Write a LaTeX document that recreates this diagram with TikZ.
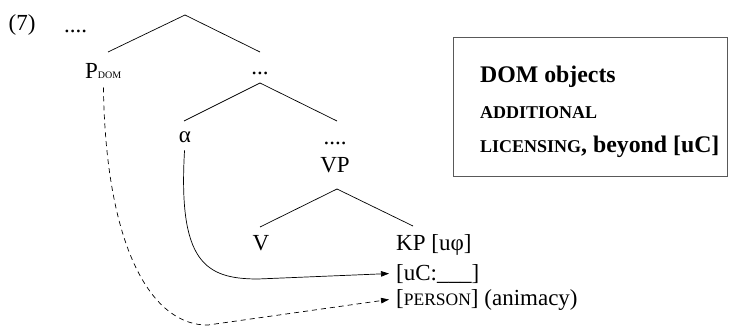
\documentclass[tikz,border=0pt]{standalone}
\usepackage{fontspec}
\setmainfont{Liberation Serif}
\usetikzlibrary{arrows.meta}
% faked small capitals: upper case at a reduced size
\newcommand\smcaps[1]{{\fontsize{17.5}{17.5}\selectfont\MakeUppercase{#1}}}
\newcommand\bigsmcaps[1]{{\fontsize{18}{18}\selectfont\MakeUppercase{#1}}}
\newcommand\tinycaps[1]{{\fontsize{10}{10}\selectfont\MakeUppercase{#1}}}
\begin{document}
\begin{tikzpicture}[x=1pt,y=-1pt,
  every node/.style={inner sep=0pt,font=\fontsize{23}{27}\selectfont},
  boxtext/.style={anchor=base west,font=\fontsize{23.8}{28}\selectfont\bfseries},
  branch/.style={line width=0.7pt},
  link/.style={line width=0.7pt,-{Triangle[length=8pt,width=5.5pt]}},
  dashlink/.style={link,dash pattern=on 5pt off 4pt}]
\useasboundingbox (0,0) rectangle (735,326);

% example number and labels
\node[anchor=base] (num) at (22,31) {(7)};
\node[anchor=base west] (dotsA) at (64,33) {....};
\node[anchor=base west] (pdom) at (85,79) {P\tinycaps{dom}};
\node[anchor=base] (dotsB) at (260,75) {...};
\node[anchor=base] (alpha) at (185,142) {α};
\node[anchor=base] (dotsC) at (335,144) {....};
\node[anchor=base] (vp) at (335,172) {VP};
\node[anchor=base] (v) at (261,250) {V};
\node[anchor=base west] (kp) at (396,250) {KP [uφ]};
\node[anchor=base west] (uc) at (396,280) {[uC:\_\_\_]};
\node[anchor=base west] (pers) at (396,305) {[\smcaps{person}] (animacy)};

% tree branches
\coordinate (top) at (185,15);
\coordinate (topL) at (108,52);
\coordinate (topR) at (260,52);
\coordinate (midT) at (260,83);
\coordinate (midL) at (184,121);
\coordinate (midR) at (337,121);
\coordinate (vpT) at (337,189);
\coordinate (vpL) at (260,227);
\coordinate (vpR) at (413,226);
\draw[branch] (topL) -- (top) -- (topR);
\draw[branch] (midL) -- (midT) -- (midR);
\draw[branch] (vpL) -- (vpT) -- (vpR);

% agreement links
\draw[link,shorten <=8pt] (alpha.south) .. controls (178,262) and (205,279) .. (258,279) -- ([xshift=-7pt]uc.west);
\draw[dashlink,shorten <=8pt] (pdom.south) .. controls (106,255) and (155,326) .. (208,325) -- ([xshift=-7pt]pers.west);

% framed note
\node[draw=black!65,line width=0.9pt,minimum width=274pt,minimum height=139pt,anchor=north west] (note) at (453,37) {};
\node[boxtext] (noteA) at (480,83) {DOM objects};
\node[boxtext] (noteB) at (480,118) {\bigsmcaps{additional}};
\node[boxtext] (noteC) at (480,152) {\bigsmcaps{licensing}, beyond [uC]};
\end{tikzpicture}
\end{document}
